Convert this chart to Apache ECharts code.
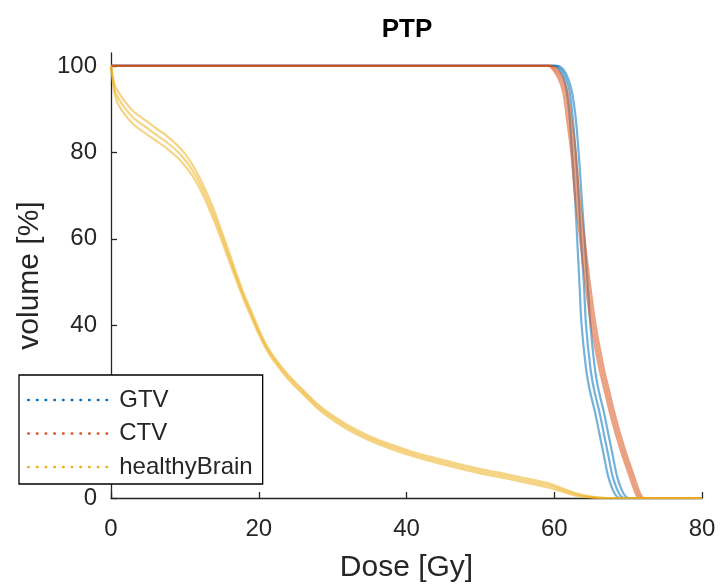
<!DOCTYPE html>
<html>
<head>
<meta charset="utf-8">
<script src="https://cdn.jsdelivr.net/npm/echarts@6/dist/echarts.min.js"></script>
<style>
  html, body { margin: 0; padding: 0; background: #fff; }
  #mChart { width: 720px; height: 584px; }
</style>
</head>
<body>
<div id="mChart"></div>
<script>
// healthyBrain: volume [%] at each dose [Gy], three scenarios
var brainDose = [0, 0.5, 1, 2, 3, 4, 5, 6, 7.5, 9, 10, 11, 12, 13, 14, 15, 16, 17, 18, 19, 20, 21, 22, 24, 26, 28, 30, 32, 35, 38, 41, 44, 47, 50, 53, 56, 59, 61, 63, 65, 67, 70, 80];
var brainLo = [100, 93.5, 91, 88.5, 86.5, 85.2, 84, 82.8, 81.0, 78.8, 76.9, 74.6, 71.7, 68.1, 64.0, 59.5, 54.8, 50.2, 45.8, 41.8, 37.9, 34.5, 31.8, 27.5, 24, 20.7, 18.1, 15.9, 13.3, 11.3, 9.6, 8.2, 6.9, 5.7, 4.7, 3.6, 2.5, 1.5, 0.5, 0.1, 0, 0, 0];
var brainMid = [100, 94.5, 92.5, 90, 88, 86.7, 85.5, 84.2, 82.4, 80.2, 78.3, 75.9, 72.9, 69.3, 65.2, 60.6, 55.8, 51, 46.5, 42.5, 38.5, 35, 32.3, 28, 24.5, 21.2, 18.6, 16.4, 13.8, 11.8, 10.1, 8.7, 7.4, 6.2, 5.2, 4.1, 3.0, 1.9, 0.8, 0.2, 0, 0, 0];
var brainHi = [100, 95.5, 94, 91.5, 89.5, 88.2, 87, 85.7, 83.9, 81.6, 79.7, 77.2, 74.1, 70.5, 66.4, 61.6, 56.8, 51.8, 47.2, 43.2, 39.1, 35.5, 32.8, 28.5, 25, 21.7, 19.1, 16.9, 14.3, 12.3, 10.6, 9.2, 7.9, 6.7, 5.7, 4.6, 3.5, 2.3, 1.1, 0.3, 0, 0, 0];

// targets: dose [Gy] reached at each volume level
var targetVol = [100, 100, 99, 97, 94, 88, 80, 70, 60, 50, 40, 30, 25, 20, 15, 10, 5, 2, 0.5, 0, 0];
var gtvLo  = [0, 60.0, 60.7, 61.3, 61.7, 62.1, 62.4, 62.8, 63.1, 63.4, 63.7, 64.3, 64.8, 65.5, 66.1, 66.7, 67.3, 67.9, 68.4, 68.9, 80];
var gtvMid = [0, 60.2, 61.0, 61.6, 62.1, 62.5, 62.9, 63.3, 63.6, 64.0, 64.3, 64.9, 65.4, 66.1, 66.7, 67.3, 67.9, 68.5, 69.0, 69.5, 80];
var gtvHi  = [0, 60.5, 61.3, 61.9, 62.4, 62.9, 63.3, 63.7, 64.1, 64.5, 64.9, 65.5, 66.0, 66.7, 67.3, 67.9, 68.5, 69.1, 69.6, 70.1, 80];
var ctvLo  = [0, 59.2, 59.9, 60.6, 61.2, 61.7, 62.3, 62.8, 63.5, 64.2, 65.0, 66.1, 66.8, 67.5, 68.3, 69.2, 70.2, 70.8, 71.2, 71.5, 80];
var ctvMid = [0, 59.4, 60.2, 60.9, 61.5, 62.0, 62.6, 63.1, 63.8, 64.5, 65.3, 66.4, 67.1, 67.8, 68.6, 69.5, 70.5, 71.1, 71.5, 71.8, 80];
var ctvHi  = [0, 59.7, 60.5, 61.2, 61.8, 62.3, 62.9, 63.4, 64.1, 64.8, 65.6, 66.7, 67.4, 68.1, 68.9, 69.8, 70.8, 71.4, 71.8, 72.1, 80];

var xTicks = [0, 20, 40, 60, 80];
var yTicks = [0, 20, 40, 60, 80, 100];

var structNames = ['GTV', 'CTV', 'healthyBrain'];
var colors = ['#0072BD', '#D95319', '#EDB120'];
var font = 'Liberation Sans, Arial, Helvetica, sans-serif';
var ink = '#262626';

function pairs(xs, ys) {
  return xs.map(function (x, i) { return [x, ys[i]]; });
}

function curve(name, color, data) {
  return {
    name: name,
    type: 'line',
    data: data,
    symbol: 'none',
    smooth: 0.3,
    lineStyle: { color: color, width: 2.2, opacity: 0.55 },
    itemStyle: { color: color },
    emphasis: { disabled: true }
  };
}

var series = [];
[gtvLo, gtvMid, gtvHi].forEach(function (d) {
  series.push(curve('GTV', colors[0], pairs(d, targetVol)));
});
[ctvLo, ctvMid, ctvHi].forEach(function (d) {
  series.push(curve('CTV', colors[1], pairs(d, targetVol)));
});
[brainLo, brainMid, brainHi].forEach(function (v) {
  series.push(curve('healthyBrain', colors[2], pairs(brainDose, v)));
});

var myChart = echarts.init(document.getElementById('mChart'));
myChart.setOption({
  animation: false,
  title: {
    text: 'PTP',
    left: 402,
    textAlign: 'center',
    top: 12,
    textStyle: { fontFamily: font, fontSize: 26, fontWeight: 'bold', color: '#000' }
  },
  legend: {
    data: structNames,
    orient: 'vertical',
    left: 19,
    top: 375,
    padding: [13, 10, 5, 8],
    itemGap: 9.5,
    itemWidth: 86,
    itemHeight: 20,
    backgroundColor: '#fff',
    borderColor: '#000',
    borderWidth: 1.3,
    itemStyle: { color: 'transparent', borderWidth: 0, opacity: 0 },
    lineStyle: { type: [0.5, 8.2], width: 2.5, cap: 'round', opacity: 1 },
    textStyle: { fontFamily: font, fontSize: 24, color: ink }
  },
  grid: { left: 111, right: 18, top: 53, bottom: 86, outerBoundsMode: 'none', containLabel: false },
  xAxis: {
    type: 'value',
    min: 0,
    max: 80,
    interval: 20,
    name: 'Dose [Gy]',
    nameLocation: 'middle',
    nameGap: 55,
    nameTextStyle: { fontFamily: font, fontSize: 30, color: ink },
    splitLine: { show: false },
    axisLine: { lineStyle: { color: ink, width: 1.3 } },
    axisTick: { inside: true, length: 6, lineStyle: { color: ink, width: 1.3 } },
    axisLabel: { fontFamily: font, fontSize: 24, color: ink, margin: 19 }
  },
  yAxis: {
    type: 'value',
    min: 0,
    max: 103,
    name: 'volume [%]',
    nameLocation: 'middle',
    nameGap: 66,
    nameTextStyle: { fontFamily: font, fontSize: 30, color: ink },
    splitLine: { show: false },
    axisLine: { show: true, lineStyle: { color: ink, width: 1.3 } },
    axisTick: { show: true, inside: true, length: 6, customValues: yTicks, lineStyle: { color: ink, width: 1.3 } },
    axisLabel: { fontFamily: font, fontSize: 24, color: ink, margin: 14, padding: [10, 0, 0, 0], customValues: yTicks }
  },
  series: series
});
</script>
</body>
</html>
